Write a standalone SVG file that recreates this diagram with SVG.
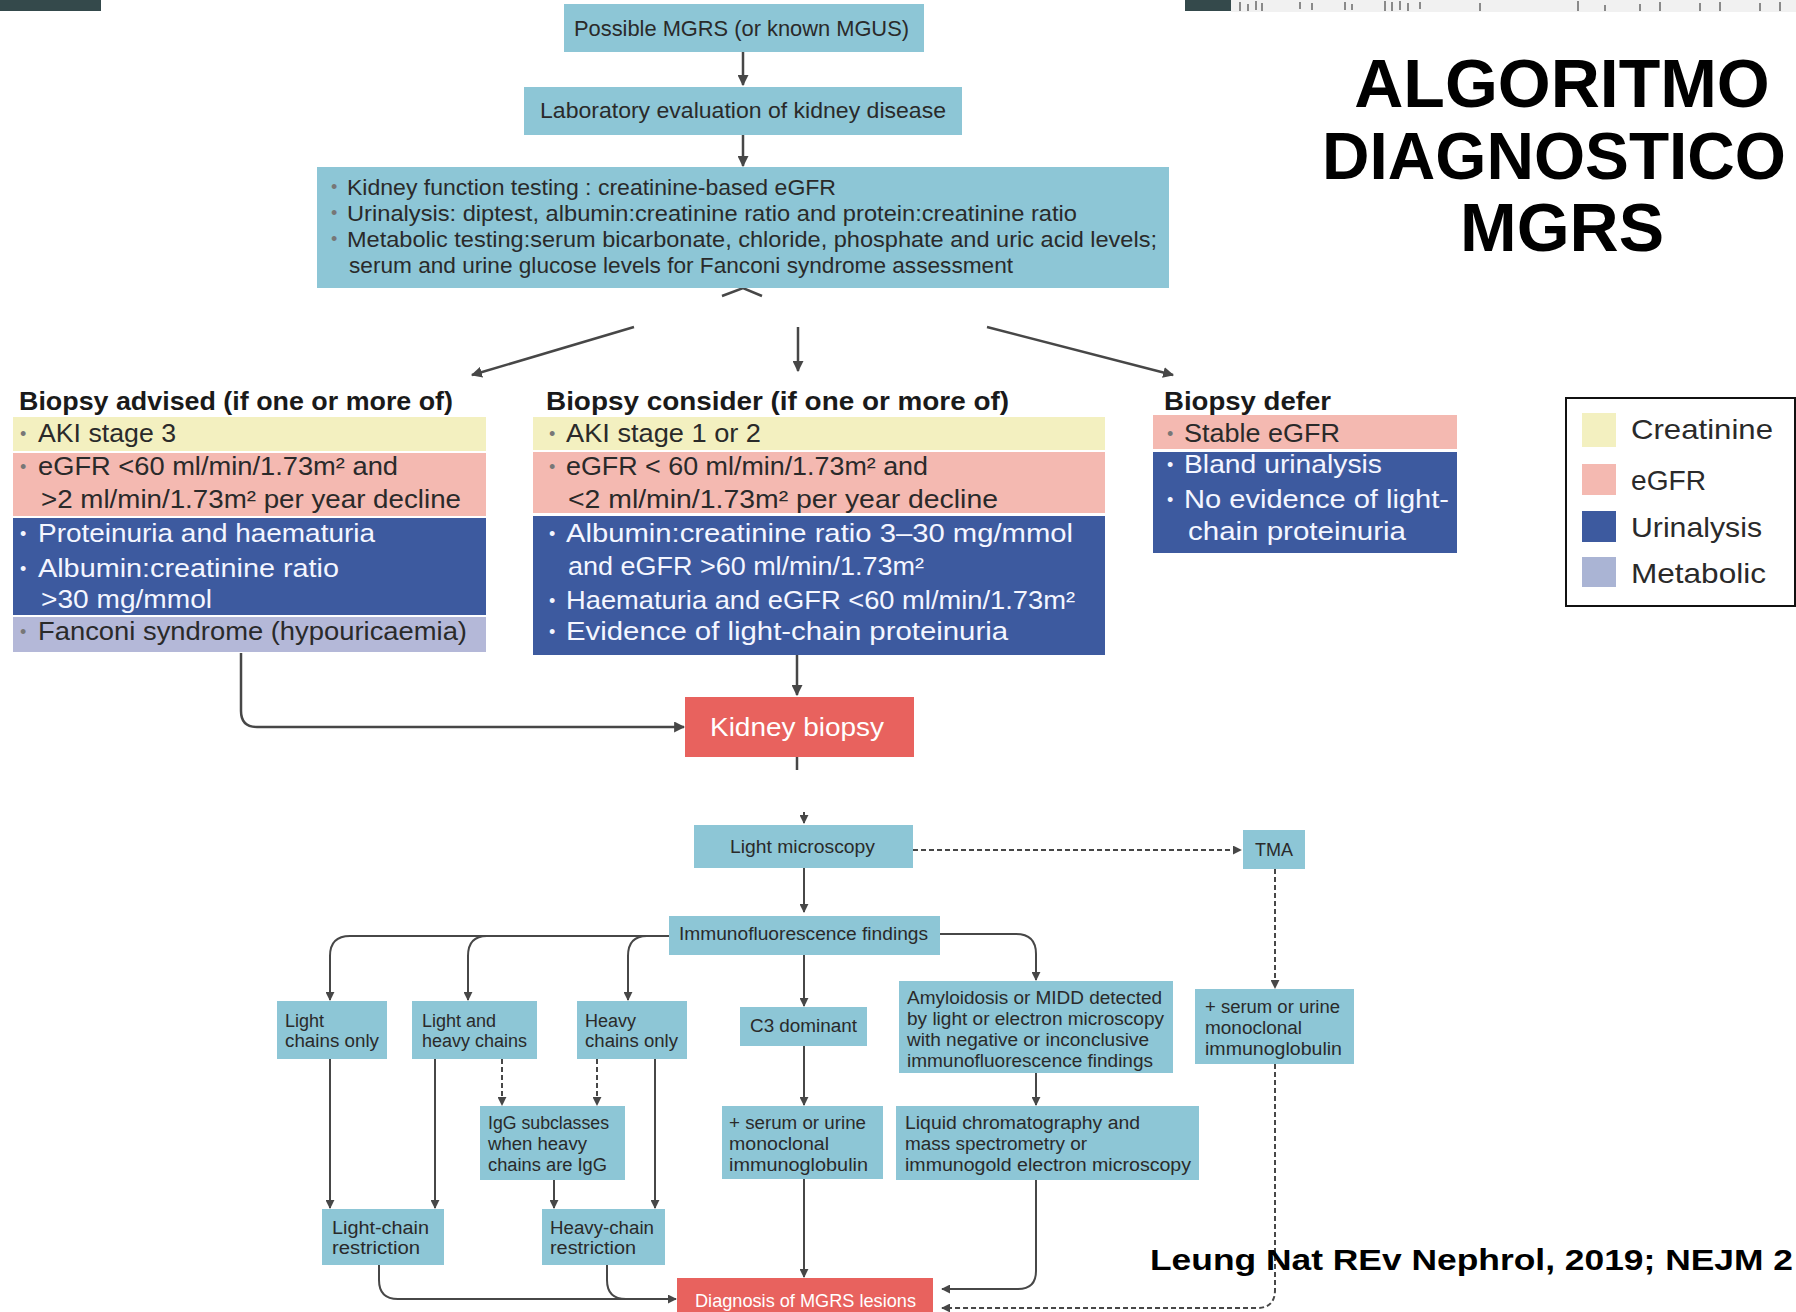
<svg xmlns="http://www.w3.org/2000/svg" width="1796" height="1312" viewBox="0 0 1796 1312">
<style>
text { font-family: "Liberation Sans", Arial, sans-serif; }
.lb { fill: #8dc6d6; }
.red { fill: #e8625e; }
.yel { fill: #f3f0c0; }
.pnk { fill: #f4b9b1; }
.blu { fill: #3d5a9f; }
.lav { fill: #b4b8d8; }
.t22 { font-size: 22px; fill: #2a2a2a; }
.t25 { font-size: 25px; fill: #2a2a2a; }
.w25 { font-size: 25px; fill: #f4f6ff; }
.h25 { font-size: 25px; font-weight: bold; fill: #1a1a1a; }
.t18 { font-size: 18px; fill: #2a2a2a; }
.leg { font-size: 28px; fill: #2a2a2a; }
.bd { font-size: 18px; fill: #777; }
.bw { font-size: 18px; fill: #f4f6ff; }
.title { font-size: 68px; font-weight: bold; fill: #000; }
.cite { font-size: 30px; font-weight: bold; fill: #000; }
.ln { fill: none; stroke: #474747; stroke-width: 2.5; }
.ln2 { fill: none; stroke: #474747; stroke-width: 2; }
.dash { stroke-dasharray: 5 3; }
</style>
<defs>
<marker id="ah" viewBox="0 0 10 10" refX="9" refY="5" markerWidth="11" markerHeight="11" markerUnits="userSpaceOnUse" orient="auto">
<path d="M0,0 L10,5 L0,10 Z" fill="#474747"/>
</marker>
<marker id="ahs" viewBox="0 0 10 10" refX="9" refY="5" markerWidth="9" markerHeight="9" markerUnits="userSpaceOnUse" orient="auto">
<path d="M0,0 L10,5 L0,10 Z" fill="#474747"/>
</marker>
</defs>
<rect width="1796" height="1312" fill="#ffffff"/>

<g id="decor">
<rect x="0" y="0" width="101" height="11" fill="#34494b"/>
<rect x="1185" y="0" width="46" height="11" fill="#34494b"/>
<rect x="1231" y="0" width="565" height="12" fill="#f1f1f1"/>
<g stroke="#8a8a8a" stroke-width="2">
<path d="M1240,2 V11 M1248,4 V11 M1256,1 V10 M1262,3 V11 M1300,2 V9 M1312,3 V10 M1345,2 V10 M1352,4 V10 M1385,1 V11 M1392,2 V11 M1400,1 V10 M1408,3 V11 M1420,2 V9 M1480,3 V11 M1578,1 V11 M1605,5 V11 M1640,4 V11 M1660,2 V11 M1700,3 V11 M1720,2 V11 M1760,3 V11 M1780,2 V11"/>
</g>
</g>

<g id="title">
<text class="title" x="1562" y="107" text-anchor="middle">ALGORITMO</text>
<text class="title" x="1322" y="179" font-size="66" style="font-size:66px" textLength="464" lengthAdjust="spacingAndGlyphs">DIAGNOSTICO</text>
<text class="title" x="1562" y="251" text-anchor="middle">MGRS</text>
</g>

<g id="connectors">
<path class="ln" d="M743,52 V85" marker-end="url(#ah)"/>
<path class="ln" d="M743,135 V166" marker-end="url(#ah)"/>
<path class="ln" d="M722,296 L743,288 L762,296" />
<path class="ln" d="M634,327 L472,375" marker-end="url(#ah)"/>
<path class="ln" d="M798,327 V371" marker-end="url(#ah)"/>
<path class="ln" d="M987,327 L1173,375" marker-end="url(#ah)"/>
<path class="ln" d="M797,655 V695" marker-end="url(#ah)"/>
<path class="ln" d="M241,653 V711 Q241,727 257,727 H684" marker-end="url(#ah)"/>
<path class="ln" d="M797,757 V770"/>
<path class="ln2" d="M804,812 V823" marker-end="url(#ahs)"/>
<path class="ln2" d="M804,868 V912" marker-end="url(#ahs)"/>
<path class="ln2 dash" d="M913,850 H1241" marker-end="url(#ahs)"/>
<path class="ln2 dash" d="M1275,869 V988" marker-end="url(#ahs)"/>
<path class="ln2 dash" d="M1275,1064 V1290 Q1275,1308 1257,1308 H942" marker-end="url(#ahs)"/>
<path class="ln2" d="M804,955 V1006" marker-end="url(#ahs)"/>
<path class="ln2" d="M940,934 H1016 Q1036,934 1036,954 V980" marker-end="url(#ahs)"/>
<path class="ln2" d="M669,936 H350 Q330,936 330,956 V1000" marker-end="url(#ahs)"/>
<path class="ln2" d="M487,936 Q468,936 468,956 V1000" marker-end="url(#ahs)"/>
<path class="ln2" d="M647,936 Q628,936 628,956 V1000" marker-end="url(#ahs)"/>
<path class="ln2" d="M330,1059 V1208" marker-end="url(#ahs)"/>
<path class="ln2" d="M435,1059 V1208" marker-end="url(#ahs)"/>
<path class="ln2 dash" d="M502,1059 V1105" marker-end="url(#ahs)"/>
<path class="ln2 dash" d="M597,1059 V1105" marker-end="url(#ahs)"/>
<path class="ln2" d="M554,1180 V1208" marker-end="url(#ahs)"/>
<path class="ln2" d="M655,1059 V1208" marker-end="url(#ahs)"/>
<path class="ln2" d="M804,1046 V1105" marker-end="url(#ahs)"/>
<path class="ln2" d="M1036,1073 V1105" marker-end="url(#ahs)"/>
<path class="ln2" d="M804,1179 V1277" marker-end="url(#ahs)"/>
<path class="ln2" d="M1036,1180 V1271 Q1036,1289 1018,1289 H942" marker-end="url(#ahs)"/>
<path class="ln2" d="M379,1265 V1280 Q379,1299 398,1299 H676" marker-end="url(#ahs)"/>
<path class="ln2" d="M607,1265 V1280 Q607,1299 626,1299"/>
</g>

<g id="n-possible">
<rect class="lb" x="564" y="4" width="360" height="48"/>
<text class="t22" x="574" y="36" textLength="335" lengthAdjust="spacingAndGlyphs">Possible MGRS (or known MGUS)</text>
</g>

<g id="n-lab">
<rect class="lb" x="524" y="87" width="438" height="48"/>
<text class="t22" x="540" y="118" textLength="406" lengthAdjust="spacingAndGlyphs">Laboratory evaluation of kidney disease</text>
</g>

<g id="n-tests">
<rect class="lb" x="317" y="167" width="852" height="121"/>
<text class="bd" x="331" y="193">•</text>
<text class="t22" x="347" y="195" textLength="489" lengthAdjust="spacingAndGlyphs">Kidney function testing : creatinine-based eGFR</text>
<text class="bd" x="331" y="219">•</text>
<text class="t22" x="347" y="221" textLength="730" lengthAdjust="spacingAndGlyphs">Urinalysis: diptest, albumin:creatinine ratio and protein:creatinine ratio</text>
<text class="bd" x="331" y="245">•</text>
<text class="t22" x="347" y="247" textLength="810" lengthAdjust="spacingAndGlyphs">Metabolic testing:serum bicarbonate, chloride, phosphate and uric acid levels;</text>
<text class="t22" x="349" y="273" textLength="664" lengthAdjust="spacingAndGlyphs">serum and urine glucose levels for Fanconi syndrome assessment</text>
</g>

<g id="n-advised">
<text class="h25" x="19" y="410" textLength="434" lengthAdjust="spacingAndGlyphs">Biopsy advised (if one or more of)</text>
<rect class="yel" x="13" y="417" width="473" height="34"/>
<rect class="pnk" x="13" y="453" width="473" height="63"/>
<rect class="blu" x="13" y="518" width="473" height="97"/>
<rect class="lav" x="13" y="617" width="473" height="35"/>
<text class="bd" x="20" y="440">•</text>
<text class="t25" x="38" y="442" textLength="138" lengthAdjust="spacingAndGlyphs">AKI stage 3</text>
<text class="bd" x="20" y="473">•</text>
<text class="t25" x="38" y="475" textLength="360" lengthAdjust="spacingAndGlyphs">eGFR &lt;60 ml/min/1.73m² and</text>
<text class="t25" x="41" y="508" textLength="420" lengthAdjust="spacingAndGlyphs">&gt;2 ml/min/1.73m² per year decline</text>
<text class="bw" x="20" y="540">•</text>
<text class="w25" x="38" y="542" textLength="337" lengthAdjust="spacingAndGlyphs">Proteinuria and haematuria</text>
<text class="bw" x="20" y="575">•</text>
<text class="w25" x="38" y="577" textLength="301" lengthAdjust="spacingAndGlyphs">Albumin:creatinine ratio</text>
<text class="w25" x="41" y="608" textLength="171" lengthAdjust="spacingAndGlyphs">&gt;30 mg/mmol</text>
<text class="bd" x="20" y="638">•</text>
<text class="t25" x="38" y="640" textLength="429" lengthAdjust="spacingAndGlyphs">Fanconi syndrome (hypouricaemia)</text>
</g>

<g id="n-consider">
<text class="h25" x="546" y="410" textLength="463" lengthAdjust="spacingAndGlyphs">Biopsy consider (if one or more of)</text>
<rect class="yel" x="533" y="417" width="572" height="33"/>
<rect class="pnk" x="533" y="452" width="572" height="61"/>
<rect class="blu" x="533" y="516" width="572" height="139"/>
<text class="bd" x="549" y="440">•</text>
<text class="t25" x="566" y="442" textLength="195" lengthAdjust="spacingAndGlyphs">AKI stage 1 or 2</text>
<text class="bd" x="549" y="473">•</text>
<text class="t25" x="566" y="475" textLength="362" lengthAdjust="spacingAndGlyphs">eGFR &lt; 60 ml/min/1.73m² and</text>
<text class="t25" x="568" y="508" textLength="430" lengthAdjust="spacingAndGlyphs">&lt;2 ml/min/1.73m² per year decline</text>
<text class="bw" x="549" y="540">•</text>
<text class="w25" x="566" y="542" textLength="507" lengthAdjust="spacingAndGlyphs">Albumin:creatinine ratio 3–30 mg/mmol</text>
<text class="w25" x="568" y="575" textLength="356" lengthAdjust="spacingAndGlyphs">and eGFR &gt;60 ml/min/1.73m²</text>
<text class="bw" x="549" y="607">•</text>
<text class="w25" x="566" y="609" textLength="509" lengthAdjust="spacingAndGlyphs">Haematuria and eGFR &lt;60 ml/min/1.73m²</text>
<text class="bw" x="549" y="638">•</text>
<text class="w25" x="566" y="640" textLength="442" lengthAdjust="spacingAndGlyphs">Evidence of light-chain proteinuria</text>
</g>

<g id="n-defer">
<text class="h25" x="1164" y="410" textLength="167" lengthAdjust="spacingAndGlyphs">Biopsy defer</text>
<rect class="pnk" x="1153" y="415" width="304" height="34"/>
<rect class="blu" x="1153" y="452" width="304" height="101"/>
<text class="bd" x="1167" y="440">•</text>
<text class="t25" x="1184" y="442" textLength="156" lengthAdjust="spacingAndGlyphs">Stable eGFR</text>
<text class="bw" x="1167" y="471">•</text>
<text class="w25" x="1184" y="473" textLength="198" lengthAdjust="spacingAndGlyphs">Bland urinalysis</text>
<text class="bw" x="1167" y="506">•</text>
<text class="w25" x="1184" y="508" textLength="265" lengthAdjust="spacingAndGlyphs">No evidence of light-</text>
<text class="w25" x="1188" y="540" textLength="218" lengthAdjust="spacingAndGlyphs">chain proteinuria</text>
</g>

<g id="legend">
<rect x="1566" y="398" width="229" height="208" fill="#ffffff" stroke="#111" stroke-width="2"/>
<rect class="yel" x="1582" y="413" width="34" height="34"/>
<rect class="pnk" x="1582" y="464" width="34" height="31"/>
<rect class="blu" x="1582" y="511" width="34" height="31"/>
<rect x="1582" y="557" width="34" height="30" fill="#aab4d4"/>
<text class="leg" x="1631" y="439" textLength="142" lengthAdjust="spacingAndGlyphs">Creatinine</text>
<text class="leg" x="1631" y="490" textLength="75" lengthAdjust="spacingAndGlyphs">eGFR</text>
<text class="leg" x="1631" y="537" textLength="131" lengthAdjust="spacingAndGlyphs">Urinalysis</text>
<text class="leg" x="1631" y="583" textLength="135" lengthAdjust="spacingAndGlyphs">Metabolic</text>
</g>

<g id="n-kidney-biopsy">
<rect class="red" x="685" y="697" width="229" height="60"/>
<text x="710" y="736" font-size="26" fill="#ffffff" textLength="174" lengthAdjust="spacingAndGlyphs">Kidney biopsy</text>
</g>

<g id="n-light-microscopy">
<rect class="lb" x="694" y="825" width="219" height="43"/>
<text class="t18" x="730" y="853" textLength="145" lengthAdjust="spacingAndGlyphs">Light microscopy</text>
</g>

<g id="n-tma">
<rect class="lb" x="1243" y="830" width="62" height="39"/>
<text class="t18" x="1274" y="856" text-anchor="middle">TMA</text>
</g>

<g id="n-immuno">
<rect class="lb" x="669" y="916" width="271" height="39"/>
<text class="t18" x="679" y="940" textLength="249" lengthAdjust="spacingAndGlyphs">Immunofluorescence findings</text>
</g>

<g id="n-light-only">
<rect class="lb" x="277" y="1001" width="110" height="58"/>
<text class="t18" x="285" y="1027">Light</text>
<text class="t18" x="285" y="1047" textLength="94" lengthAdjust="spacingAndGlyphs">chains only</text>
</g>

<g id="n-light-heavy">
<rect class="lb" x="412" y="1001" width="125" height="58"/>
<text class="t18" x="422" y="1027">Light and</text>
<text class="t18" x="422" y="1047" textLength="105" lengthAdjust="spacingAndGlyphs">heavy chains</text>
</g>

<g id="n-heavy-only">
<rect class="lb" x="577" y="1001" width="110" height="58"/>
<text class="t18" x="585" y="1027">Heavy</text>
<text class="t18" x="585" y="1047" textLength="93" lengthAdjust="spacingAndGlyphs">chains only</text>
</g>

<g id="n-c3">
<rect class="lb" x="740" y="1007" width="127" height="39"/>
<text class="t18" x="750" y="1032" textLength="107" lengthAdjust="spacingAndGlyphs">C3 dominant</text>
</g>

<g id="n-amyloid">
<rect class="lb" x="899" y="981" width="274" height="92"/>
<text class="t18" x="907" y="1004" textLength="255" lengthAdjust="spacingAndGlyphs">Amyloidosis or MIDD detected</text>
<text class="t18" x="907" y="1025" textLength="257" lengthAdjust="spacingAndGlyphs">by light or electron microscopy</text>
<text class="t18" x="907" y="1046" textLength="242" lengthAdjust="spacingAndGlyphs">with negative or inconclusive</text>
<text class="t18" x="907" y="1067" textLength="246" lengthAdjust="spacingAndGlyphs">immunofluorescence findings</text>
</g>

<g id="n-serum-right">
<rect class="lb" x="1195" y="989" width="159" height="75"/>
<text class="t18" x="1205" y="1013" textLength="135" lengthAdjust="spacingAndGlyphs">+ serum or urine</text>
<text class="t18" x="1205" y="1034" textLength="97" lengthAdjust="spacingAndGlyphs">monoclonal</text>
<text class="t18" x="1205" y="1055" textLength="137" lengthAdjust="spacingAndGlyphs">immunoglobulin</text>
</g>

<g id="n-igg">
<rect class="lb" x="480" y="1106" width="145" height="74"/>
<text class="t18" x="488" y="1129" textLength="121" lengthAdjust="spacingAndGlyphs">IgG subclasses</text>
<text class="t18" x="488" y="1150" textLength="99" lengthAdjust="spacingAndGlyphs">when heavy</text>
<text class="t18" x="488" y="1171" textLength="119" lengthAdjust="spacingAndGlyphs">chains are IgG</text>
</g>

<g id="n-serum-center">
<rect class="lb" x="722" y="1106" width="161" height="73"/>
<text class="t18" x="729" y="1129" textLength="137" lengthAdjust="spacingAndGlyphs">+ serum or urine</text>
<text class="t18" x="729" y="1150" textLength="100" lengthAdjust="spacingAndGlyphs">monoclonal</text>
<text class="t18" x="729" y="1171" textLength="139" lengthAdjust="spacingAndGlyphs">immunoglobulin</text>
</g>

<g id="n-liquid">
<rect class="lb" x="896" y="1106" width="303" height="74"/>
<text class="t18" x="905" y="1129" textLength="235" lengthAdjust="spacingAndGlyphs">Liquid chromatography and</text>
<text class="t18" x="905" y="1150" textLength="182" lengthAdjust="spacingAndGlyphs">mass spectrometry or</text>
<text class="t18" x="905" y="1171" textLength="286" lengthAdjust="spacingAndGlyphs">immunogold electron microscopy</text>
</g>

<g id="n-light-restriction">
<rect class="lb" x="322" y="1209" width="122" height="56"/>
<text class="t18" x="332" y="1234" textLength="97" lengthAdjust="spacingAndGlyphs">Light-chain</text>
<text class="t18" x="332" y="1254" textLength="88" lengthAdjust="spacingAndGlyphs">restriction</text>
</g>

<g id="n-heavy-restriction">
<rect class="lb" x="542" y="1209" width="123" height="56"/>
<text class="t18" x="550" y="1234" textLength="104" lengthAdjust="spacingAndGlyphs">Heavy-chain</text>
<text class="t18" x="550" y="1254" textLength="86" lengthAdjust="spacingAndGlyphs">restriction</text>
</g>

<g id="n-diagnosis">
<rect class="red" x="677" y="1278" width="256" height="40"/>
<text x="695" y="1307" font-size="19" fill="#ffffff" textLength="221" lengthAdjust="spacingAndGlyphs">Diagnosis of MGRS lesions</text>
</g>

<g id="citation">
<text class="cite" x="1150" y="1270" textLength="643" lengthAdjust="spacingAndGlyphs">Leung Nat REv Nephrol, 2019; NEJM 2</text>
</g>
</svg>
